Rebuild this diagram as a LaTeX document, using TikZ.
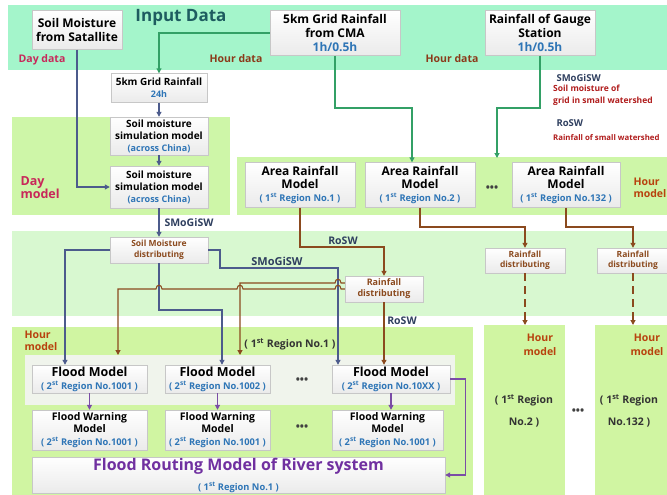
\documentclass[tikz,border=0pt]{standalone}
\usepackage{fontspec}
\setmainfont{Open Sans}
\usetikzlibrary{arrows.meta}
\definecolor{inbg}{HTML}{A4F5CB}
\definecolor{daybg}{HTML}{CEF6A8}
\definecolor{midbg}{HTML}{D8F8D0}
\definecolor{hourbg}{HTML}{D0F5A2}
\definecolor{panelbg}{HTML}{F0F4EC}
\definecolor{txtblue}{HTML}{2E75B6}
\definecolor{lngreen}{HTML}{33A066}
\definecolor{lnslate}{HTML}{4C5B8C}
\definecolor{lnbrown}{HTML}{8B4A1E}
\definecolor{lnpurple}{HTML}{7A4CA6}
\definecolor{crim}{HTML}{C8285A}
\definecolor{hourred}{HTML}{B8420E}
\definecolor{ttlteal}{HTML}{1E5C60}
\definecolor{darkred}{HTML}{B01C1C}
\definecolor{lblslate}{HTML}{2F3F5F}
\definecolor{routpurple}{HTML}{7030A0}
\definecolor{hrbrown}{HTML}{8B3A1A}
\newcommand{\subtxt}[1]{\textcolor{txtblue}{\fontsize{9.3}{10.5}\selectfont #1}}

\begin{document}
\begin{tikzpicture}[x=1pt,y=-1pt,
box/.style={draw=black!22,top color=white,bottom color=black!8,align=center,inner sep=0pt},
band/.style={inner sep=0pt,anchor=north west},
lbl/.style={font=\bfseries\fontsize{#1}{#1}\selectfont},
gline/.style={draw=lngreen,line width=1.1pt,-{Triangle[length=5pt,width=5pt]}},
sline/.style={draw=lnslate,line width=1.1pt,-{Triangle[length=5pt,width=5pt]}},
bline/.style={draw=lnbrown,line width=1.1pt,-{Triangle[length=5pt,width=5pt]}},
pline/.style={draw=lnpurple,line width=1.1pt,-{Triangle[length=5pt,width=5pt]}}]
\useasboundingbox (0,0) rectangle (667,495);
\fill[inbg] (8,5) rectangle (667,70);
\fill[daybg] (12,117) rectangle (230,215);
\fill[daybg] (237,157) rectangle (667,215);
\fill[midbg] (12,231) rectangle (667,316);
\fill[hourbg] (12,327) rectangle (473,495);
\node[band,fill=hourbg,minimum width=81pt,minimum height=170pt] (hcA) at (484,325) {};
\node[band,fill=hourbg,minimum width=72pt,minimum height=170pt] (hcB) at (595,325) {};
\fill[panelbg] (25,355) rectangle (455,405);

\node[box,minimum width=90pt,minimum height=39pt,font=\bfseries\fontsize{12}{14}\selectfont] (sat) at (77,30) {Soil Moisture\\from Satallite};
\node[lbl=17,text=ttlteal] (ttl) at (181,17) {Input Data};
\node[box,minimum width=130pt,minimum height=45pt,font=\bfseries\fontsize{12}{14}\selectfont] (cma) at (335,33) {5km Grid Rainfall\\from CMA\\\textcolor{txtblue}{1h/0.5h}};
\node[box,minimum width=110pt,minimum height=45pt,font=\bfseries\fontsize{12}{14}\selectfont] (gauge) at (540,33) {Rainfall of Gauge\\Station\\\textcolor{txtblue}{1h/0.5h}};
\node[lbl=10.5,text=crim] (dayd) at (42,60) {Day data};
\node[lbl=10.5,text=hrbrown] (hrdA) at (236,59) {Hour data};
\node[lbl=10.5,text=hrbrown] (hrdB) at (452,59) {Hour data};

\node[box,minimum width=96pt,minimum height=29pt,font=\bfseries\fontsize{10}{12}\selectfont] (grid24) at (159,88) {5km Grid Rainfall\\\textcolor{txtblue}{\fontsize{9}{10}\selectfont 24h}};
\node[box,minimum width=98pt,minimum height=38pt,font=\bfseries\fontsize{10}{12}\selectfont] (smsmA) at (159,136) {Soil moisture\\simulation model\\\textcolor{txtblue}{\fontsize{9}{10}\selectfont (across China)}};
\node[box,minimum width=98pt,minimum height=42pt,font=\bfseries\fontsize{10}{12}\selectfont] (smsmB) at (159,187) {Soil moisture\\simulation model\\\textcolor{txtblue}{\fontsize{9}{10}\selectfont (across China)}};
\node[anchor=west,align=left,text=crim,font=\bfseries\fontsize{12.5}{13}\selectfont] (daym) at (17,188) {Day\\model};
\node[lbl=10.5,text=lblslate] (smlA) at (189,223) {SMoGiSW};

\node[box,minimum width=110pt,minimum height=45pt,font=\bfseries\fontsize{12}{13}\selectfont] (rmA) at (300,185) {Area Rainfall\\Model\\\subtxt{( 1\textsuperscript{st} Region No.1 )}};
\node[box,minimum width=110pt,minimum height=45pt,font=\bfseries\fontsize{12}{13}\selectfont] (rmB) at (420,185) {Area Rainfall\\Model\\\subtxt{( 1\textsuperscript{st} Region No.2 )}};
\node[lbl=11,text=black!75] (dotsR) at (492,189) {•••};
\node[box,minimum width=108pt,minimum height=45pt,font=\bfseries\fontsize{12}{13}\selectfont] (rmC) at (566,185) {Area Rainfall\\Model\\\subtxt{( 1\textsuperscript{st} Region No.132 )}};
\node[anchor=west,align=left,text=hourred,font=\bfseries\fontsize{10.5}{12.5}\selectfont] (hourR) at (630,188) {Hour\\model};

\node[anchor=west,lbl=9.5,text=lblslate] (annA) at (553,78) {SMoGiSW};
\node[anchor=north west,align=left,inner sep=0pt,text=darkred,font=\bfseries\fontsize{8.5}{12}\selectfont] (annB) at (553,85) {Soil moisture of\\grid in small watershed};
\node[anchor=west,lbl=9.5,text=lblslate] (annC) at (553,123) {RoSW};
\node[anchor=west,inner sep=1pt,lbl=7.8,text=darkred] (annD) at (552,138) {Rainfall of small watershed};

\node[box,minimum width=98pt,minimum height=26pt,text=lnbrown,font=\bfseries\fontsize{8.5}{10.5}\selectfont] (smd) at (159,250) {Soil Moisture\\distributing};
\node[lbl=11,text=lblslate] (smlB) at (277,261) {SMoGiSW};
\node[lbl=10.5,text=lblslate] (rosA) at (343,241) {RoSW};
\node[box,minimum width=78pt,minimum height=26pt,text=lnbrown,font=\bfseries\fontsize{9}{11}\selectfont] (rdA) at (384,289) {Rainfall\\distributing};
\node[box,minimum width=80pt,minimum height=25pt,text=lnbrown,font=\bfseries\fontsize{8.5}{10.5}\selectfont] (rdB) at (525,260.5) {Rainfall\\distributing};
\node[box,minimum width=72pt,minimum height=25pt,text=lnbrown,font=\bfseries\fontsize{8.5}{10.5}\selectfont] (rdC) at (633,260.5) {Rainfall\\distributing};
\node[lbl=10.5,text=lblslate] (rosB) at (402,321) {RoSW};

\node[anchor=west,align=left,text=hourred,font=\bfseries\fontsize{10.5}{12}\selectfont] (hourL) at (21,341) {Hour\\model};
\node[lbl=10.5,text=black!80] (regL) at (290,344) {( 1\textsuperscript{st} Region No.1 )};
\node[align=center,text=hourred,font=\bfseries\fontsize{10.5}{13.5}\selectfont] (hourA) at (540,345) {Hour\\model};
\node[align=center,text=hourred,font=\bfseries\fontsize{10.5}{13.5}\selectfont] (hourB) at (647,345) {Hour\\model};
\node[align=center,font=\bfseries\fontsize{10.5}{22}\selectfont,text=black!80] (regA) at (524,411) {( 1\textsuperscript{st} Region\\No.2 )};
\node[align=center,font=\bfseries\fontsize{10.5}{22}\selectfont,text=black!80] (regB) at (629,411) {( 1\textsuperscript{st} Region\\No.132 )};
\node[lbl=11,text=black!75] (dotsC) at (578,412) {•••};

\node[box,minimum width=115pt,minimum height=28pt,font=\bfseries\fontsize{12.5}{13}\selectfont] (fmA) at (89.5,379) {Flood Model\\\subtxt{( 2\textsuperscript{st} Region No.1001 )}};
\node[box,minimum width=105pt,minimum height=28pt,font=\bfseries\fontsize{12.5}{13}\selectfont] (fmB) at (217.5,379) {Flood Model\\\subtxt{( 2\textsuperscript{st} Region No.1002 )}};
\node[lbl=11,text=black!75] (dotsF) at (302,381) {•••};
\node[box,minimum width=118pt,minimum height=28pt,font=\bfseries\fontsize{12.5}{13}\selectfont] (fmC) at (391,379) {Flood Model\\\subtxt{( 2\textsuperscript{st} Region No.10XX )}};
\node[box,minimum width=115pt,minimum height=40pt,font=\bfseries\fontsize{10.5}{12.5}\selectfont] (fwA) at (89.5,430) {Flood Warning\\Model\\\subtxt{( 2\textsuperscript{st} Region No.1001 )}};
\node[box,minimum width=105pt,minimum height=40pt,font=\bfseries\fontsize{10.5}{12.5}\selectfont] (fwB) at (217.5,430) {Flood Warning\\Model\\\subtxt{( 2\textsuperscript{st} Region No.1001 )}};
\node[lbl=11,text=black!75] (dotsW) at (302,428) {•••};
\node[box,minimum width=111pt,minimum height=40pt,font=\bfseries\fontsize{10.5}{12.5}\selectfont] (fwC) at (387.5,430) {Flood Warning\\Model\\\subtxt{( 2\textsuperscript{st} Region No.1001 )}};
\node[box,minimum width=413pt,minimum height=36pt,font=\bfseries\fontsize{16}{20}\selectfont] (route) at (238.5,475) {\textcolor{routpurple}{Flood Routing Model of River system}\\\subtxt{( 1\textsuperscript{st} Region No.1 )}};

\coordinate (gend) at (497,158);
\coordinate (pA) at (118,355);
\coordinate (pB) at (240,355);

\draw[sline] (sat.south) |- (smsmB.west);
\draw[gline] (cma.west) -| (grid24.north);
\draw[gline] (cma.south) -- (335,108) -| ([xshift=-8pt]rmB.north);
\draw[gline] (gauge.south) -- (540,108) -| (gend);
\draw[sline] (grid24) -- (smsmA);
\draw[sline] (smsmA) -- (smsmB);
\draw[sline] (smsmB) -- (smd);
\draw[sline] (smd.west) -| ([xshift=-24.5pt]fmA.north);
\draw[sline] (smd.south) -- (159,310) -| ([xshift=4.5pt]fmB.north);
\draw[sline] (smd.east) -- (220,250) |- (338,268) -- ([xshift=-53pt]fmC.north);
\draw[bline] (rmA.south) |- (384,247) -- (rdA.north);
\draw[bline] (rmB.south) |- (525,227) -- (rdB.north);
\draw[bline] (rmC.south) |- (633,227) -- (rdC.north);
\draw[bline,dash pattern=on 8pt off 5pt] (rdB.south) -- (rdB.south |- hcA.north);
\draw[bline,dash pattern=on 8pt off 5pt] (rdC.south) -- (rdC.south |- hcB.north);
\draw[bline] (rdA.south) -- (rdA.south |- fmC.north);
\draw[bline] ([yshift=6pt]rdA.west) -- (341,283) .. controls (341,278) and (335,278) .. (335,283) -- (240,283) -- (pB);
\draw[bline] (rdA.west) -- (341,289) .. controls (341,284) and (335,284) .. (335,289) -- (243,289) .. controls (243,284) and (237,284) .. (237,289) -- (162,289) .. controls (162,284) and (156,284) .. (156,289) -- (118,289) -- (pA);
\draw[pline] (fmA.south) -- (fwA.north);
\draw[pline] (fmB.south) -- (fwB.north);
\draw[pline] (fmC.south) -- (fmC.south |- fwC.north);
\draw[pline] (fmC.east) -- ++(15,0) |- (route.east);
\end{tikzpicture}
\end{document}
